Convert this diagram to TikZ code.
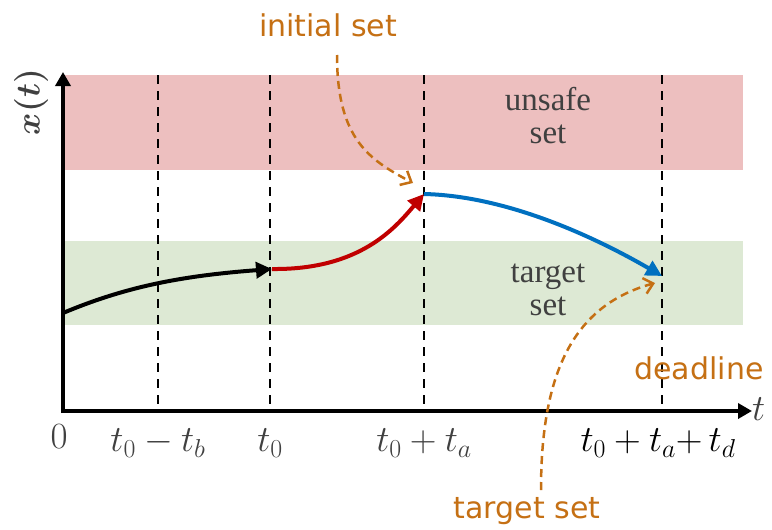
\RequirePackage{fix-cm}
\documentclass[tikz,border=0pt]{standalone}
\usepackage{fontspec}
\usepackage{xcolor}
\usepackage{tikz}
\usetikzlibrary{arrows.meta,positioning}
\newfontfamily\notefont{DejaVu Sans}
\newfontfamily\bandfont{Liberation Serif}
\definecolor{unsafered}{RGB}{237,191,191}
\definecolor{targetgreen}{RGB}{221,233,212}
\definecolor{noteorange}{RGB}{197,112,20}
\definecolor{trajred}{RGB}{192,0,0}
\definecolor{trajblue}{RGB}{0,112,192}
\definecolor{labelgray}{RGB}{64,64,64}

\begin{document}
\begin{tikzpicture}[x=1pt, y=-1pt,
  band/.style={draw=none},
  bandlabel/.style={align=center, text=labelgray, font=\fontsize{33}{33}\bandfont, inner sep=0pt},
  note/.style={text=noteorange, font=\fontsize{30}{36}\notefont, inner sep=0pt},
  ticklabel/.style={text=labelgray, font=\fontsize{37}{42}\selectfont, inner sep=0pt},
  axis/.style={line width=4pt, -{Triangle[length=14pt,width=15pt]}},
  guide/.style={line width=2.6pt, dash pattern=on 9pt off 7pt},
  traj/.style={line width=4pt, -{Triangle[length=16pt,width=16pt]}},
  pointer/.style={line width=2.5pt, noteorange, dash pattern=on 8pt off 5pt, -{Straight Barb[length=9pt,width=16pt]}}]

\useasboundingbox (0,0) rectangle (772,530);

% Bands
\fill[band, unsafered] (63,75) rectangle (743,170);
\fill[band, targetgreen] (63,241) rectangle (743,325);
\node[bandlabel] (unsafe) at (548,116) {unsafe\\set};
\node[bandlabel] (target) at (548,290) {target\\set};

% Axes
\coordinate (origin) at (63,411);
\coordinate (ytop) at (63,72);
\coordinate (xend) at (752,411);
\draw[axis] (63,413) -- (ytop);
\draw[axis] (61,411) -- (xend);
\node[ticklabel, rotate=90, font=\fontsize{34}{38}\selectfont\boldmath] (xlabel) at (31,102) {$x(t)$};
\node[ticklabel, anchor=west] (tlabel) at (752,409) {$t$};

% Time instants
\coordinate (tb) at (158,409);
\coordinate (tz) at (270,409);
\coordinate (ta) at (424,409);
\coordinate (td) at (662,409);
\foreach \c in {tb,tz,ta,td}
  \draw[guide] (\c |- 0,75) -- (\c);

\node[ticklabel] (zero) at (59,437) {$0$};
\node[ticklabel, below=20pt of tb] (tblabel) {$t_0 - t_b$};
\node[ticklabel, below=20pt of tz] (tzlabel) {$t_0$};
\node[ticklabel, below=20pt of ta] (talabel) {$t_0 + t_a$};
\node[ticklabel, text=black, below=20pt of td, xshift=-4pt] (tdlabel) {$t_0 + t_a{+}\,t_d$};

% Trajectory
\coordinate (start) at (63,313);
\coordinate (now) at (272,269);
\coordinate (init) at (424,194);
\coordinate (goal) at (662,276);
\draw[traj] (start) .. controls (125,287) and (180,276) .. (now);
\draw[traj, trajred] (now) .. controls (360,270) and (395,228) .. (init);
\draw[traj, trajblue] (init) .. controls (510,196) and (600,240) .. (goal);

% Notes
\node[note] (initnote) at (328,25) {initial set};
\node[note] (goalnote) at (527,511) {target set};
\node[note] (deadline) at (699,368) {deadline};
\coordinate (initfrom) at (337,55);
\coordinate (initto) at (413,183);
\coordinate (goalfrom) at (541,490);
\coordinate (goalto) at (655,283);
\draw[pointer] (initfrom) .. controls (337,140) and (370,160) .. (initto);
\draw[pointer] (goalfrom) .. controls (541,370) and (575,305) .. (goalto);

\end{tikzpicture}
\end{document}
